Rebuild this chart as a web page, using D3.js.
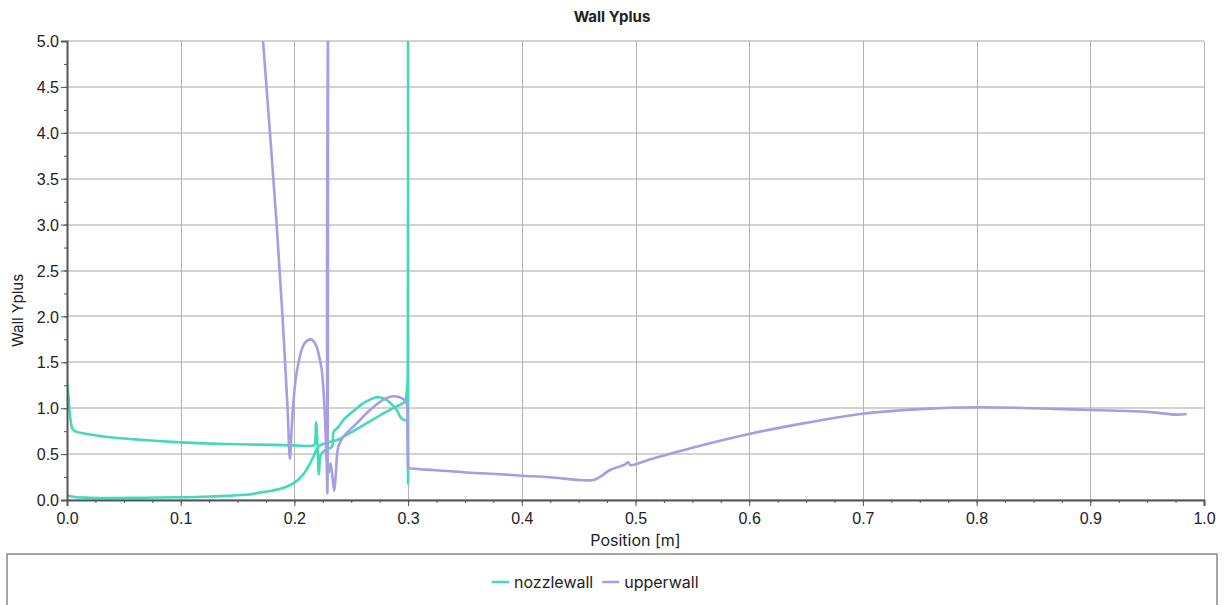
<!DOCTYPE html>
<html>
<head>
<meta charset="utf-8">
<script src="https://cdn.jsdelivr.net/npm/d3@7"></script>
<style>
    html, body { margin: 0; padding: 0; background: #fff; }
    svg { display: block; }
    .tick text { font-family: "Liberation Sans", Arial, sans-serif; font-size: 16px; fill: #222; }
    .grid line { shape-rendering: crispEdges; }
    .lbl { font-family: Inter, "Noto Sans", sans-serif; fill: #222; }
</style>
</head>
<body>
<div id="chart"></div>
<script>
    // series
    var seriesNames = ["nozzlewall", "upperwall"];
    var seriesColors = ["#45d9bb", "#a79de2"];

    var nozzlewallPos = [0, 0.0015, 0.003, 0.005, 0.008, 0.015, 0.025, 0.04, 0.06, 0.08, 0.1, 0.12, 0.15, 0.18, 0.2, 0.215,
        0.2175, 0.219, 0.2205, 0.2215, 0.2235, 0.228, 0.233, 0.2345, 0.239, 0.243, 0.249, 0.255, 0.26, 0.266, 0.2705,
        0.274, 0.278, 0.281, 0.285, 0.29, 0.294, 0.297, 0.2995, 0.2995, 0.3, 0.3, 0.3, 0.2998, 0.2995, 0.299, 0.297, 0.29, 0.278,
        0.264, 0.249, 0.237, 0.227, 0.221, 0.2166, 0.213, 0.209, 0.205, 0.199, 0.19, 0.18, 0.17, 0.16, 0.14, 0.12,
        0.1, 0.07, 0.04, 0.02, 0.008, 0.003, 0];
    var nozzlewallYplus = [1.28, 1.1, 0.88, 0.77, 0.745, 0.725, 0.705, 0.68, 0.66, 0.643, 0.628, 0.617, 0.607, 0.6, 0.595, 0.59,
        0.6, 0.85, 0.55, 0.28, 0.5, 0.55, 0.58, 0.74, 0.8, 0.87, 0.94, 1.0, 1.05, 1.09, 1.115,
        1.12, 1.11, 1.09, 1.05, 0.98, 0.89, 0.87, 0.87, 0.87, 0.18, 0.18, 6.0, 1.8, 1.3, 1.2, 1.07, 1.02, 0.94,
        0.84, 0.73, 0.65, 0.62, 0.58, 0.47, 0.38, 0.3, 0.24, 0.18, 0.13, 0.1, 0.08, 0.06, 0.045, 0.035,
        0.03, 0.025, 0.022, 0.025, 0.03, 0.04, 0.05];

    var upperwallPos = [0.1705, 0.1724, 0.1844, 0.19, 0.194, 0.196, 0.1975, 0.199, 0.2015, 0.2035, 0.206, 0.209, 0.2146,
        0.2175, 0.2196, 0.222, 0.224, 0.2255, 0.227, 0.2285, 0.229, 0.2297, 0.2303, 0.2318, 0.2335, 0.235, 0.2365,
        0.2386, 0.243, 0.2548, 0.2665, 0.278, 0.287, 0.2944, 0.298, 0.2993, 0.2993, 0.3, 0.3, 0.3105, 0.322, 0.3515, 0.381, 0.4,
        0.4248, 0.451, 0.463, 0.469, 0.4776, 0.4905, 0.4935, 0.4955, 0.513, 0.55, 0.6, 0.65, 0.7, 0.75, 0.8, 0.85,
        0.9, 0.95, 0.976, 0.9847];
    var upperwallYplus = [5.3, 5.0, 3.0, 1.9, 1.0, 0.45, 0.75, 1.05, 1.35, 1.49, 1.62, 1.71, 1.75,
        1.72, 1.67, 1.55, 1.42, 1.2, 0.87, 0.35, 0.07, 6.0, 0.3, 0.4, 0.25, 0.1, 0.3,
        0.58, 0.69, 0.835, 0.98, 1.09, 1.13, 1.11, 1.07, 1.02, 1.02, 0.345, 0.345, 0.335, 0.327, 0.3, 0.28, 0.265,
        0.247, 0.218, 0.218, 0.254, 0.327, 0.385, 0.41, 0.38, 0.443, 0.57, 0.72, 0.84, 0.94, 0.99, 1.01, 1.0,
        0.98, 0.96, 0.93, 0.937];

    var xDomain = [0, 1.0], yDomain = [0, 5.0];
    var xTicks = d3.range(0, 1.0001, 0.1), xMinorTicks = d3.range(0, 1.0001, 0.025);
    var yTicks = d3.range(0, 5.0001, 0.5), yMinorTicks = d3.range(0, 5.0001, 0.25);

    var width = 1225, height = 605,
        margin = {top: 41, right: 21, bottom: 105, left: 67};
    var w = width - margin.left - margin.right,
        h = height - margin.top - margin.bottom;

    var svg = d3.select("#chart").append("svg")
        .attr("width", width).attr("height", height);

    var x = d3.scaleLinear().domain(xDomain).range([0, w]);
    var y = d3.scaleLinear().domain(yDomain).range([h, 0]);

    var g = svg.append("g").attr("transform", "translate(" + margin.left + "," + margin.top + ")");

    // grid
    g.append("g").attr("class", "grid")
        .selectAll("line").data(yTicks).enter().append("line")
        .attr("x1", 0).attr("x2", w)
        .attr("y1", function (d) { return Math.round(y(d)); })
        .attr("y2", function (d) { return Math.round(y(d)); })
        .style("stroke", "#d2d2d2").style("stroke-width", 2);
    g.append("g").attr("class", "grid")
        .selectAll("line").data(xTicks).enter().append("line")
        .attr("y1", 0).attr("y2", h)
        .attr("x1", function (d) { return Math.round(x(d)); })
        .attr("x2", function (d) { return Math.round(x(d)); })
        .style("stroke", "#b4b4b4").style("stroke-width", 1);

    // series
    g.append("clipPath").attr("id", "clip").append("rect")
        .attr("x", 0).attr("y", 0).attr("width", w).attr("height", h);

    var line = d3.line()
        .curve(d3.curveCatmullRom.alpha(0.5))
        .x(function (d) { return x(d[0]); })
        .y(function (d) { return y(d[1]); });

    var series = [
        d3.zip(nozzlewallPos, nozzlewallYplus),
        d3.zip(upperwallPos, upperwallYplus)
    ];

    g.append("g").attr("clip-path", "url(#clip)")
        .selectAll("path").data(series).enter().append("path")
        .attr("d", line)
        .style("fill", "none")
        .style("stroke", function (d, i) { return seriesColors[i]; })
        .style("stroke-width", 2.6)
        .style("stroke-linejoin", "round");

    // axes
    var xAxis = g.append("g").attr("transform", "translate(0," + h + ")")
        .call(d3.axisBottom(x).tickValues(xTicks).tickFormat(d3.format(".1f")).tickSize(6).tickPadding(4));
    g.append("g").attr("transform", "translate(0," + h + ")")
        .call(d3.axisBottom(x).tickValues(xMinorTicks).tickFormat("").tickSize(3))
        .select(".domain").remove();
    var yAxis = g.append("g")
        .call(d3.axisLeft(y).tickValues(yTicks).tickFormat(d3.format(".1f")).tickSize(6).tickPadding(2));
    g.append("g")
        .call(d3.axisLeft(y).tickValues(yMinorTicks).tickFormat("").tickSize(3))
        .select(".domain").remove();

    g.selectAll(".domain").style("stroke", "#555").style("stroke-width", 2);
    g.selectAll(".tick line").style("stroke", "#555");
    xAxis.selectAll("text").attr("dy", "0.9em");
    yAxis.selectAll("text").attr("dy", "0.35em");

    // titles
    svg.append("text").attr("class", "lbl")
        .attr("x", 612).attr("y", 22)
        .attr("text-anchor", "middle")
        .style("font-size", "15px").style("font-weight", "bold")
        .text("Wall Yplus");
    svg.append("text").attr("class", "lbl")
        .attr("x", margin.left + w / 2).attr("y", 546)
        .attr("text-anchor", "middle")
        .style("font-size", "16px")
        .text("Position [m]");
    svg.append("text").attr("class", "lbl")
        .attr("transform", "translate(23," + (margin.top + h / 2 + 40) + ") rotate(-90)")
        .attr("text-anchor", "middle")
        .style("font-size", "15px")
        .text("Wall Yplus");

    // legend
    svg.append("rect")
        .attr("x", 7).attr("y", 554).attr("width", 1210).attr("height", 60)
        .style("fill", "#fff").style("stroke", "#888").style("stroke-width", 1.5);

    var legend = svg.append("g").attr("transform", "translate(492,582)");
    var lx = 0;
    seriesNames.forEach(function (name, i) {
        var item = legend.append("g").attr("transform", "translate(" + lx + ",0)");
        item.append("line").attr("x1", 0).attr("x2", 17).attr("y1", 0).attr("y2", 0)
            .style("stroke", seriesColors[i]).style("stroke-width", 2.5);
        var t = item.append("text").attr("class", "lbl")
            .attr("x", 22).attr("y", 6)
            .style("font-size", "16px")
            .text(name);
        lx += 22 + t.node().getComputedTextLength() + 9;
    });
</script>
</body>
</html>
